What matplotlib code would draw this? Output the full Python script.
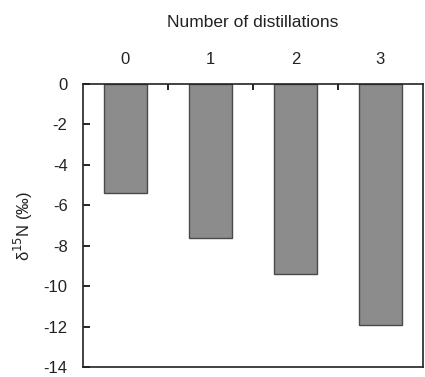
import matplotlib
matplotlib.use("Agg")
import matplotlib.pyplot as plt
import numpy as np

# number of distillations and delta 15N values
distillations = ["0", "1", "2", "3"]
delta15N = [-5.4, -7.6, -9.4, -11.9]
yticks = [0, -2, -4, -6, -8, -10, -12, -14]

plt.rcParams['font.family'] = ['Liberation Sans', 'DejaVu Sans']

fig = plt.figure(figsize=(4.25, 3.77), dpi=100)
ax = fig.add_axes([0.195, 0.0265, 0.8, 0.7505])

x = np.arange(len(distillations))
ax.bar(x, delta15N, width=0.5, color='#8c8c8c', edgecolor='#4a4a4a', linewidth=1.0)

ax.set_xlim(-0.5, 3.5)
ax.set_ylim(-14, 0)
ax.set_yticks(yticks)
ax.set_yticklabels([str(v) for v in yticks])

# category labels on top, ticks between categories
ax.xaxis.tick_top()
ax.xaxis.set_label_position('top')
ax.set_xticks(x)
ax.set_xticklabels(distillations)
ax.set_xticks(x[:-1] + 0.5, minor=True)
ax.tick_params(axis='x', which='major', length=0, pad=12, labelsize=12, colors='#222222')
ax.tick_params(axis='x', which='minor', direction='in', length=4, width=1.2)
ax.tick_params(axis='y', direction='in', length=5, width=1.2, labelsize=12, pad=11, labelcolor='#222222')
ax.set_xlabel('Number of distillations', fontsize=12.5, labelpad=18, color='#222222')
ax.set_ylabel('δ$^{15}$N (‰)', fontsize=12, labelpad=6, color='#222222')

for s in ax.spines.values():
    s.set_linewidth(1.2)
    s.set_color('#222222')

fig.savefig('out.png', dpi=100)
